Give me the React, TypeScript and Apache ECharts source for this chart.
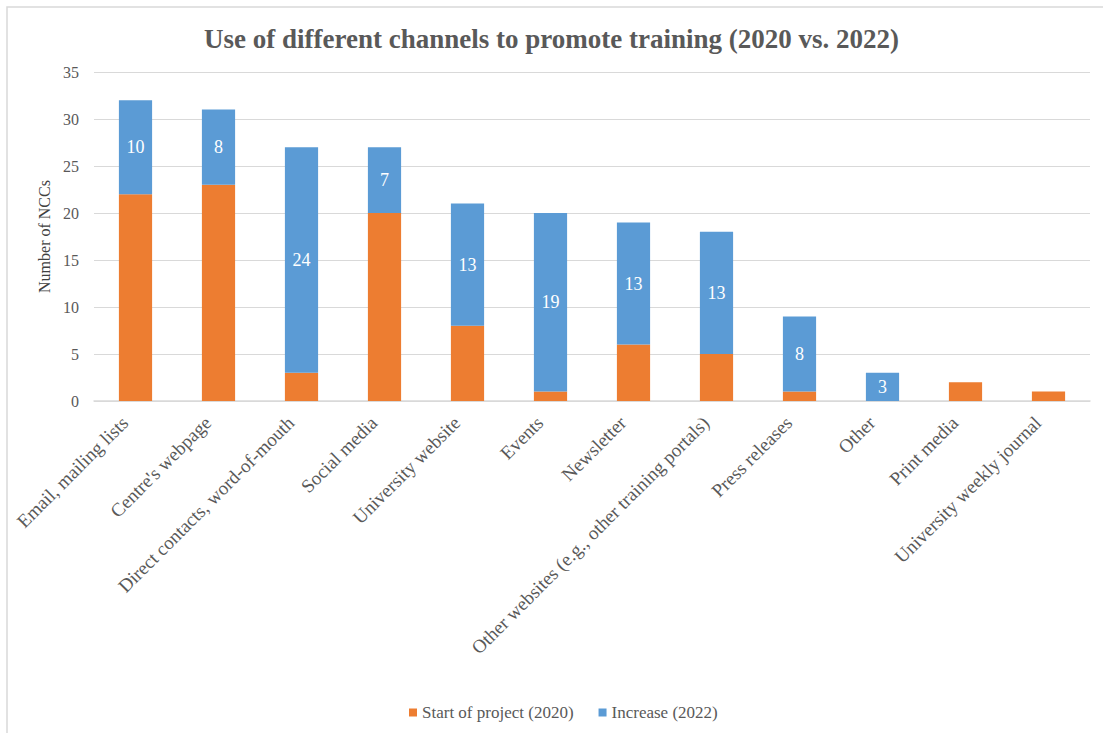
import React, { useEffect, useRef } from "react";
import * as echarts from "echarts";

const categories = [
  "Email, mailing lists",
  "Centre's webpage",
  "Direct contacts, word-of-mouth",
  "Social media",
  "University website",
  "Events",
  "Newsletter",
  "Other websites (e.g., other training portals)",
  "Press releases",
  "Other",
  "Print media",
  "University weekly journal",
];
const start2020 = [22, 23, 3, 20, 8, 1, 6, 5, 1, 0, 2, 1];
const increase2022 = [10, 8, 24, 7, 13, 19, 13, 13, 8, 3, 0, 0];
const yTicks = { min: 0, max: 35, interval: 5 };

const FONT = "Liberation Serif";

export default function App() {
  const ref = useRef<HTMLDivElement>(null);
  useEffect(() => {
    if (!ref.current) return;
    const chart = echarts.init(ref.current, null, { renderer: "svg" });
    chart.setOption({
      animation: false,
      backgroundColor: "#fff",
      textStyle: { fontFamily: FONT },
      title: {
        text: "Use of different channels to promote training (2020 vs. 2022)",
        left: "center",
        top: 20,
        textStyle: { fontFamily: FONT, fontSize: 27, fontWeight: "bold", color: "#595959" },
      },
      graphic: [
        {
          type: "rect",
          shape: { x: 7, y: 7, width: 1110, height: 740 },
          style: { fill: "none", stroke: "#d9d9d9", lineWidth: 1.5 },
          silent: true,
          z: -1,
        },
      ],
      legend: {
        bottom: 7,
        left: 404,
        itemWidth: 8,
        itemHeight: 8,
        itemGap: 25,
        icon: "rect",
        textStyle: { fontFamily: FONT, fontSize: 17, color: "#595959" },
        data: ["Start of project (2020)", "Increase (2022)"],
      },
      grid: { left: 94, right: 13, top: 72, bottom: 332, containLabel: false },
      xAxis: {
        type: "category",
        data: categories,
        axisLine: { lineStyle: { color: "#d9d9d9", width: 1.5 } },
        axisTick: { show: false },
        axisLabel: {
          rotate: 45,
          interval: 0,
          fontFamily: FONT,
          fontSize: 19,
          color: "#595959",
          margin: 8,
          padding: [0, 15, 0, 0],
        },
      },
      yAxis: {
        type: "value",
        min: yTicks.min,
        max: yTicks.max,
        interval: yTicks.interval,
        name: "Number of NCCs",
        nameLocation: "middle",
        nameGap: 32,
        nameTextStyle: { fontFamily: FONT, fontSize: 16, color: "#404040" },
        axisLine: { show: false },
        axisTick: { show: false },
        axisLabel: { fontFamily: FONT, fontSize: 16, color: "#595959", margin: 15 },
        splitLine: { lineStyle: { color: "#d9d9d9", width: 1 } },
      },
      series: [
        {
          name: "Start of project (2020)",
          type: "bar",
          stack: "total",
          data: start2020,
          barWidth: "40%",
          itemStyle: { color: "#ED7D31" },
        },
        {
          name: "Increase (2022)",
          type: "bar",
          stack: "total",
          data: increase2022,
          barWidth: "40%",
          itemStyle: { color: "#5B9BD5" },
          label: {
            show: true,
            position: "inside",
            fontFamily: FONT,
            fontSize: 18,
            color: "#ffffff",
            formatter: (p: any) => (p.value ? String(p.value) : ""),
          },
        },
      ],
    });
    return () => chart.dispose();
  }, []);
  return (
    <div
      ref={ref}
      style={{ position: "fixed", left: 0, top: 0, width: 1103, height: 733 }}
    />
  );
}
